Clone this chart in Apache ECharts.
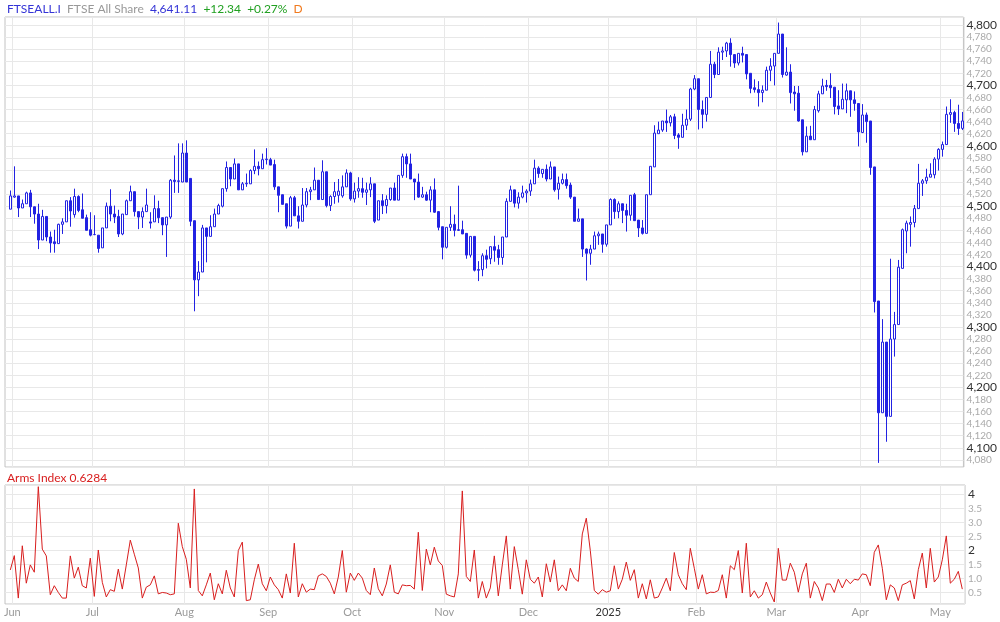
<!DOCTYPE html>
<html><head><meta charset="utf-8">
<script src="https://cdn.jsdelivr.net/npm/echarts@6/dist/echarts.min.js"></script>
<style>html,body{margin:0;padding:0;background:#fff}#c{width:1000px;height:622px}</style>
</head><body><div id="c"></div>
<script>
// ---- data ----
const opens = [4495,4515,4517,4497,4504,4522,4499,4487,4444,4483,4449,4441,4438,4470,4474,4509,4486,4516,4494,4481,4461,4453,4452,4431,4464,4500,4487,4483,4454,4486,4509,4524,4491,4482,4491,4474,4474,4496,4481,4469,4482,4543,4541,4540,4588,4546,4476,4378,4391,4464,4450,4466,4487,4500,4529,4564,4545,4570,4527,4537,4537,4559,4566,4562,4577,4577,4569,4532,4519,4504,4467,4514,4484,4475,4502,4524,4527,4543,4511,4557,4501,4516,4518,4517,4532,4555,4512,4525,4529,4523,4527,4537,4477,4509,4501,4511,4530,4510,4551,4582,4570,4545,4540,4515,4519,4510,4527,4491,4466,4432,4465,4470,4461,4461,4455,4419,4450,4395,4395,4418,4413,4433,4428,4415,4449,4508,4527,4505,4515,4522,4525,4537,4563,4554,4561,4545,4565,4528,4538,4544,4535,4515,4475,4479,4429,4422,4429,4451,4454,4437,4469,4511,4491,4504,4493,4485,4519,4477,4464,4455,4519,4565,4620,4626,4641,4638,4648,4618,4614,4634,4644,4694,4711,4660,4652,4680,4735,4718,4755,4757,4770,4751,4737,4753,4751,4720,4696,4693,4688,4692,4725,4732,4753,4785,4717,4722,4689,4687,4643,4590,4616,4610,4658,4686,4700,4700,4697,4666,4661,4676,4691,4676,4670,4622,4651,4641,4565,4343,4158,4275,4152,4280,4304,4397,4459,4470,4473,4496,4538,4542,4548,4552,4578,4594,4602,4652,4655,4637,4628.77];
const closes = [4517,4517,4497,4504,4522,4499,4487,4444,4483,4449,4439,4438,4470,4474,4509,4492,4516,4493,4480,4460,4452,4453,4430,4464,4500,4487,4482,4454,4487,4509,4524,4491,4482,4491,4502,4472,4496,4481,4469,4482,4543,4541,4542,4588,4540,4475,4378,4391,4464,4450,4466,4487,4501,4529,4564,4545,4570,4527,4537,4538,4559,4566,4562,4577,4578,4568,4532,4518,4503,4467,4514,4484,4475,4502,4524,4527,4543,4511,4557,4501,4516,4524,4525,4532,4555,4512,4525,4529,4523,4527,4537,4475,4509,4501,4511,4530,4510,4551,4582,4570,4545,4540,4515,4519,4510,4527,4490,4465,4432,4465,4470,4460,4460,4454,4419,4450,4394,4394,4418,4412,4433,4427,4415,4449,4508,4527,4505,4515,4522,4525,4537,4563,4554,4561,4545,4565,4527,4538,4544,4534,4515,4475,4479,4429,4422,4429,4451,4454,4437,4469,4511,4491,4504,4493,4485,4518,4476,4464,4455,4519,4566,4621,4626,4641,4638,4648,4617,4614,4634,4644,4694,4711,4660,4652,4680,4735,4718,4755,4757,4770,4751,4737,4753,4750,4719,4695,4693,4688,4692,4725,4732,4753,4785,4718,4722,4688,4686,4641,4590,4616,4610,4660,4686,4699,4698,4696,4665,4661,4677,4691,4676,4670,4623,4651,4640,4564,4342,4158,4275,4152,4280,4304,4399,4461,4472,4473,4496,4538,4542,4548,4553,4578,4594,4602,4652,4655,4637,4628.77,4641.11];
const lows = [4495,4514,4482,4497,4504,4482,4471,4429,4444,4442,4423,4423,4438,4454,4474,4466,4481,4490,4480,4460,4450,4452,4423,4431,4464,4475,4472,4449,4452,4486,4509,4483,4462,4464,4491,4463,4474,4472,4452,4416,4479,4522,4522,4540,4540,4467,4326,4351,4391,4407,4450,4466,4487,4498,4524,4533,4545,4527,4527,4532,4537,4553,4551,4562,4569,4568,4527,4490,4503,4463,4467,4484,4463,4475,4498,4510,4527,4511,4511,4498,4492,4504,4506,4514,4532,4509,4506,4514,4514,4502,4515,4472,4477,4487,4488,4509,4510,4510,4547,4547,4545,4510,4514,4514,4509,4490,4489,4460,4412,4430,4459,4450,4459,4454,4413,4415,4392,4376,4384,4397,4404,4408,4403,4403,4449,4508,4498,4496,4513,4506,4517,4537,4547,4547,4541,4545,4524,4511,4536,4529,4512,4475,4475,4416,4377,4403,4429,4436,4423,4433,4469,4479,4480,4472,4458,4476,4476,4449,4453,4455,4519,4565,4620,4623,4623,4632,4611,4595,4614,4626,4641,4692,4627,4629,4640,4680,4712,4718,4742,4747,4731,4729,4733,4738,4710,4687,4688,4665,4672,4692,4707,4700,4753,4713,4716,4670,4658,4640,4584,4590,4610,4610,4655,4686,4691,4679,4652,4651,4661,4654,4648,4658,4599,4621,4605,4552,4324,4075,4158,4110,4152,4251,4304,4397,4422,4433,4465,4496,4517,4537,4548,4546,4559,4582,4602,4638,4623,4618,4626];
const highs = [4526,4566,4517,4511,4524,4527,4499,4504,4494,4483,4458,4461,4471,4480,4509,4515,4529,4518,4521,4486,4490,4485,4452,4464,4506,4528,4501,4494,4487,4511,4534,4524,4491,4498,4529,4490,4518,4509,4481,4482,4545,4584,4604,4604,4609,4546,4476,4409,4469,4464,4485,4496,4504,4529,4574,4564,4579,4570,4540,4554,4561,4594,4574,4587,4596,4580,4577,4532,4519,4504,4517,4517,4500,4530,4530,4532,4564,4543,4576,4557,4518,4540,4545,4551,4561,4557,4539,4548,4547,4539,4548,4537,4509,4520,4518,4530,4539,4551,4587,4587,4587,4545,4554,4532,4524,4533,4546,4492,4466,4465,4500,4486,4534,4476,4455,4450,4450,4409,4422,4428,4433,4451,4436,4449,4513,4534,4527,4523,4534,4528,4544,4577,4566,4561,4569,4574,4565,4549,4554,4554,4539,4515,4496,4479,4430,4436,4458,4458,4454,4469,4513,4513,4508,4504,4504,4518,4522,4477,4477,4519,4566,4634,4640,4641,4660,4651,4653,4621,4653,4660,4696,4717,4711,4675,4680,4757,4739,4763,4764,4772,4778,4751,4753,4764,4751,4720,4710,4707,4700,4731,4745,4753,4804,4785,4763,4735,4699,4699,4643,4632,4633,4666,4691,4711,4709,4720,4697,4692,4703,4703,4691,4690,4670,4669,4655,4641,4565,4343,4313,4275,4413,4325,4411,4463,4476,4483,4502,4570,4545,4562,4571,4581,4596,4607,4665,4677,4658,4668,4656];
const arms = [1.31,1.82,0.31,2.17,0.84,1.49,1.23,4.27,2.05,1.81,
0.43,0.75,0.51,0.31,0.31,1.81,1.02,1.41,0.75,0.67,
1.73,0.37,2.02,0.87,0.35,0.61,0.55,1.34,0.63,1.49,
2.37,1.87,1.38,0.31,0.70,0.78,1.10,0.46,0.51,0.49,
0.43,0.46,2.97,2.14,1.69,0.67,4.19,0.58,0.39,0.78,
1.20,0.25,0.82,0.46,1.30,0.67,0.35,2.00,2.30,0.22,
0.25,0.96,1.52,0.82,0.57,1.06,0.78,0.61,0.31,1.17,
0.49,2.26,0.35,0.82,0.52,0.63,0.61,1.10,1.17,1.08,
0.84,0.46,1.06,2.00,0.52,1.20,0.94,1.20,1.02,0.58,
0.43,1.38,0.64,0.39,0.81,1.49,0.52,0.46,0.78,0.75,
0.76,0.63,2.65,0.58,2.05,1.49,2.12,1.63,1.47,0.45,
0.39,0.35,1.17,4.12,1.08,0.90,2.02,0.31,0.90,0.31,
0.67,1.81,0.39,
1.49,2.52,0.63,2.14,1.32,0.45,1.67,0.98,0.84,1.06,
0.35,1.53,0.88,1.67,0.57,0.78,0.57,1.37,1.02,0.90,
2.59,3.15,2.00,0.58,0.45,0.61,0.52,0.57,1.46,0.63,
0.98,1.59,0.94,1.32,0.31,0.82,0.28,0.96,0.31,0.35,
0.67,1.02,0.57,1.93,1.14,0.82,0.61,2.08,1.37,0.63,
1.14,0.46,0.52,0.51,0.58,1.14,0.31,1.46,1.32,2.00,
0.49,2.26,0.35,0.57,0.31,0.43,0.88,0.49,0.17,2.08,
0.95,0.95,1.55,1.23,0.52,1.17,1.55,0.31,0.90,0.67,
0.22,0.81,0.81,0.51,0.98,0.67,0.98,0.82,0.98,0.95,
1.17,1.14,0.75,1.94,2.20,1.37,0.25,0.78,0.67,0.22,
0.78,0.84,0.93,0.28,1.32,1.91,0.67,2.08,0.88,1.06,
1.67,2.52,0.84,0.98,1.26,0.6284];
const holidays = ['2024-08-26','2024-12-25','2024-12-26','2025-01-01','2025-04-18','2025-04-21','2025-05-05'];
const firstDay = '2024-05-31', lastDay = '2025-05-09';
const monthNames = ['Jan','Feb','Mar','Apr','May','Jun','Jul','Aug','Sep','Oct','Nov','Dec'];
const headerParts = {symbol:'FTSEALL.I', name:'FTSE All Share', last:'4,641.11', chg:'+12.34', pct:'+0.27%', period:'D'};
const armsTitle = 'Arms Index 0.6284';

// ---- build categories (trading days) ----
const dates = [];
for (let t = Date.parse(firstDay + 'T00:00:00Z'); t <= Date.parse(lastDay + 'T00:00:00Z'); t += 86400000) {
  const d = new Date(t), wd = d.getUTCDay(), s = d.toISOString().slice(0, 10);
  if (wd !== 0 && wd !== 6 && holidays.indexOf(s) < 0) dates.push(s);
}
const isMonthStart = (i) => i > 0 && dates[i].slice(0, 7) !== dates[i - 1].slice(0, 7);
const monthLabel = (v) => { const m = +v.slice(5, 7); return m === 1 ? '{y|' + v.slice(0, 4) + '}' : '{m|' + monthNames[m - 1] + '}'; };

const BLUE = '#2222e2', RED = '#d81e1e', GRID = '#e8e8e8', FRAME = '#c2c2c2';
const FONT = 'Lato';
const mainMin = 4068.2, mainMax = 4813.2, armsMin = 0.1, armsMax = 4.33;

const chart = echarts.init(document.getElementById('c'), null, {renderer: 'canvas'});
const catAxis = (gi, labels) => ({
  gridIndex: gi, type: 'category', data: dates, boundaryGap: true,
  axisLine: {show: false}, axisTick: {show: false},
  axisLabel: labels ? {show: true, interval: (i) => isMonthStart(i), formatter: (v) => monthLabel(v), margin: 3, padding: [0, 4, 0, 0],
    rich: {m: {color: '#9a9a9a', fontSize: 11, fontFamily: FONT}, y: {color: '#333', fontSize: 11, fontFamily: FONT}}} : {show: false},
  splitLine: {show: true, interval: (i) => isMonthStart(i), lineStyle: {color: GRID, width: 1}}
});
chart.setOption({
  animation: false,
  backgroundColor: '#fff',
  title: [
    {left: 7, top: 3, padding: 0,
     text: '{a|' + headerParts.symbol + '}  {b|' + headerParts.name + '}  {a|' + headerParts.last + '}  {c|' + headerParts.chg + '}  {c|' + headerParts.pct + '}  {d|' + headerParts.period + '}',
     textStyle: {fontFamily: FONT, fontSize: 12, fontWeight: 'normal',
       rich: {a: {color: '#3434d6', fontSize: 12, fontFamily: FONT}, b: {color: '#999', fontSize: 12, fontFamily: FONT},
              c: {color: '#21a021', fontSize: 12, fontFamily: FONT}, d: {color: '#f07a1e', fontSize: 12, fontFamily: FONT}}}},
    {left: 7, top: 472, padding: 0, text: armsTitle, textStyle: {fontFamily: FONT, fontSize: 12, fontWeight: 'normal', color: RED}}
  ],
  grid: [
    {left: 5, top: 17, width: 960, height: 450, show: true, borderColor: FRAME, borderWidth: 1, backgroundColor: 'transparent'},
    {left: 8.3, top: 17, width: 956, height: 450},
    {left: 5, top: 485, width: 960, height: 119, show: true, borderColor: FRAME, borderWidth: 1, backgroundColor: 'transparent'},
    {left: 8.3, top: 485, width: 956, height: 119}
  ],
  xAxis: [
    {gridIndex: 0, type: 'value', show: false, min: 0, max: 1},
    catAxis(1, false),
    {gridIndex: 2, type: 'value', show: false, min: 0, max: 1},
    catAxis(3, true)
  ],
  yAxis: [
    {gridIndex: 0, type: 'value', position: 'right', min: mainMin, max: mainMax, splitNumber: 37, minInterval: 20, maxInterval: 20,
     axisLine: {show: false}, axisTick: {show: false}, splitLine: {show: true, lineStyle: {color: GRID}},
     axisLabel: {margin: 3, formatter: (v) => {
        if (Math.abs(v / 20 - Math.round(v / 20)) > 1e-6) return '';
        const s = v.toLocaleString('en-US');
        return v % 100 === 0 ? '{a|' + s + '}' : '{b|' + s + '}';
      }, rich: {a: {color: '#333', fontSize: 12, fontFamily: FONT}, b: {color: '#aaa', fontSize: 10, fontFamily: FONT}}}},
    {gridIndex: 1, type: 'value', show: false, min: mainMin, max: mainMax},
    {gridIndex: 2, type: 'value', position: 'right', min: armsMin, max: armsMax, splitNumber: 8, minInterval: 0.5, maxInterval: 0.5,
     axisLine: {show: false}, axisTick: {show: false}, splitLine: {show: true, lineStyle: {color: GRID}},
     axisLabel: {margin: 3, formatter: (v) => {
        if (Math.abs(v * 2 - Math.round(v * 2)) > 1e-6) return '';
        return (v === 4 || v === 2) ? '{a|' + v + '}' : '{b|' + v.toFixed(1) + '}';
      }, rich: {a: {color: '#333', fontSize: 12, fontFamily: FONT}, b: {color: '#aaa', fontSize: 10, fontFamily: FONT}}}},
    {gridIndex: 3, type: 'value', show: false, min: armsMin, max: armsMax}
  ],
  series: [
    {type: 'candlestick', xAxisIndex: 1, yAxisIndex: 1, barWidth: 3,
     data: dates.map((d, i) => [opens[i], closes[i], lows[i], highs[i]]),
     itemStyle: {color: '#ffffff', color0: BLUE, borderColor: BLUE, borderColor0: BLUE, borderWidth: 1}},
    {type: 'line', xAxisIndex: 3, yAxisIndex: 3, data: arms, symbol: 'none', showSymbol: false,
     lineStyle: {color: RED, width: 1}}
  ]
});
</script>
</body></html>
